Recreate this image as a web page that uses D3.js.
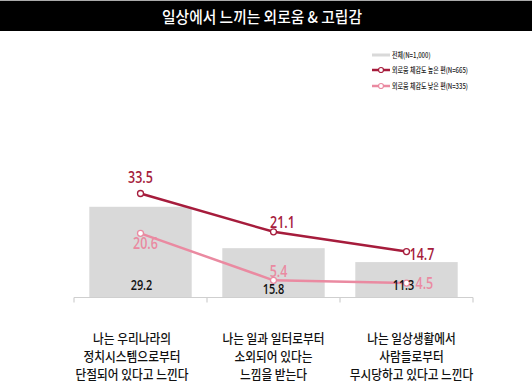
<!DOCTYPE html>
<html><head><meta charset="utf-8">
<script src="https://cdn.jsdelivr.net/npm/d3@7"></script>
<style>body{margin:0;background:#fff}svg{display:block}</style>
</head><body>
<svg id="c" width="532" height="392"></svg>
<script>
const title = "일상에서 느끼는 외로움 & 고립감";
const categories = [
  ["나는 우리나라의","정치시스템으로부터","단절되어 있다고 느낀다"],
  ["나는 일과 일터로부터","소외되어 있다는","느낌을 받는다"],
  ["나는 일상생활에서","사람들로부터","무시당하고 있다고 느낀다"]
];
const seriesNames = ["전체(N=1,000)","외로움 체감도 높은 편(N=665)","외로움 체감도 낮은 편(N=335)"];
const totalValues = [29.2, 15.8, 11.3];
const highValues = [33.5, 21.1, 14.7];
const lowValues = [20.6, 5.4, 4.5];

const colors = {bar:"#d9d9d9", high:"#a61c3c", low:"#ea8aa1", axis:"#cfcfcf"};
const font = "'Noto Sans CJK KR','Noto Sans',sans-serif";
const numFont = "'Open Sans','Noto Sans',sans-serif";

const svg = d3.select("#c");

// title bar
svg.append("rect").attr("x",0).attr("y",0).attr("width",532).attr("height",1).attr("fill","#aaa");
svg.append("rect").attr("x",0).attr("y",1).attr("width",532).attr("height",30).attr("fill","#000");
svg.append("text").attr("x",262).attr("y",23).attr("text-anchor","middle")
  .attr("fill","#fff").attr("font-family",font).attr("font-size",16).attr("font-weight",500)
  .attr("textLength",200).attr("lengthAdjust","spacingAndGlyphs").text(title);

const x = d3.scaleBand().domain(d3.range(categories.length)).range([74,473]).paddingInner(0.23).paddingOuter(0.115);
const xc = i => x(i) + x.bandwidth()/2;
const y = d3.scaleLinear().domain([0,40]).range([297, 297-40*3.09]);

// bars
svg.append("g").selectAll("rect").data(totalValues).join("rect")
  .attr("x",(d,i)=>x(i)).attr("y",d=>y(d)).attr("width",x.bandwidth()).attr("height",d=>y(0)-y(d))
  .attr("fill",colors.bar);

// axis
const band = d3.scaleBand().domain(d3.range(categories.length)).range([74,473]);
const axis = svg.append("g").attr("transform","translate(0,297.5)")
  .call(d3.axisBottom(band).tickSize(0).tickFormat(""));
axis.select(".domain").attr("stroke",colors.axis).attr("stroke-width",1.2).attr("d","M74,0H473");
axis.selectAll(".tick").remove();
const edges = d3.range(categories.length+1).map(i => i<categories.length ? band(i) : band.range()[1]);
axis.selectAll("line.edge").data(edges).join("line").attr("class","edge")
  .attr("x1",d=>d).attr("x2",d=>d).attr("y1",0).attr("y2",5)
  .attr("stroke",colors.axis).attr("stroke-width",1.2);

// lines
const line = d3.line().x((d,i)=>xc(i)).y(d=>y(d));
[[lowValues,colors.low],[highValues,colors.high]].forEach(([vals,col])=>{
  svg.append("path").datum(vals).attr("d",line).attr("fill","none").attr("stroke",col).attr("stroke-width",2.5);
  svg.append("g").selectAll("circle").data(vals).join("circle")
    .attr("cx",(d,i)=>xc(i)).attr("cy",d=>y(d)).attr("r",3)
    .attr("fill","#fff").attr("stroke",col).attr("stroke-width",1.3);
});

// value labels
const highOffsets = [[0,-10,"middle"],[9,-4,"middle"],[3,8,"start"]];
const lowOffsets = [[5,16,"middle"],[5,-3,"middle"],[9,6,"start"]];
const barOffsets = [[1,290,"middle"],[0,294,"middle"],[-3,290,"middle"]];
function numLabel(vals, offs, col, size, yFn){
  svg.append("g").selectAll("text").data(vals).join("text")
    .attr("transform",(d,i)=>`translate(${xc(i)+offs[i][0]},${yFn(d,i)}) scale(0.78,1)`)
    .attr("text-anchor",(d,i)=>offs[i][2]).attr("fill",col)
    .attr("font-family",numFont).attr("font-size",size).attr("font-weight",600)
    .text(d=>d.toFixed(1));
}
numLabel(lowValues, lowOffsets, colors.low, 16, (d,i)=>y(d)+lowOffsets[i][1]);
numLabel(highValues, highOffsets, colors.high, 16, (d,i)=>y(d)+highOffsets[i][1]);
numLabel(totalValues, barOffsets, "#111", 14, (d,i)=>barOffsets[i][1]);

// category labels
const catShift = [-8.5, 0, 5];
categories.forEach((lines,i)=>{
  lines.forEach((t,j)=>{
    svg.append("text")
      .attr("transform",`translate(${xc(i)+catShift[i]},${343+j*18}) scale(0.9,1)`)
      .attr("text-anchor","middle").attr("fill","#111")
      .attr("font-family",font).attr("font-size",13).attr("font-weight",500).text(t);
  });
});

// legend
const legY = [55,70,86];
const legCols = [colors.bar, colors.high, colors.low];
seriesNames.forEach((n,i)=>{
  const g = svg.append("g").attr("transform",`translate(372,${legY[i]})`);
  g.append("line").attr("x1",0).attr("x2",18).attr("y1",0).attr("y2",0)
    .attr("stroke",legCols[i]).attr("stroke-width", i===0?3:2.5);
  if(i>0) g.append("circle").attr("cx",9).attr("cy",0).attr("r",2.5)
    .attr("fill","#fff").attr("stroke",legCols[i]).attr("stroke-width",1.2);
  g.append("text").attr("transform","translate(20,2.5) scale(0.8,1)")
    .attr("font-family",font).attr("font-size",7.5).attr("font-weight",500).attr("fill","#222").text(n);
});
</script>
</body></html>
